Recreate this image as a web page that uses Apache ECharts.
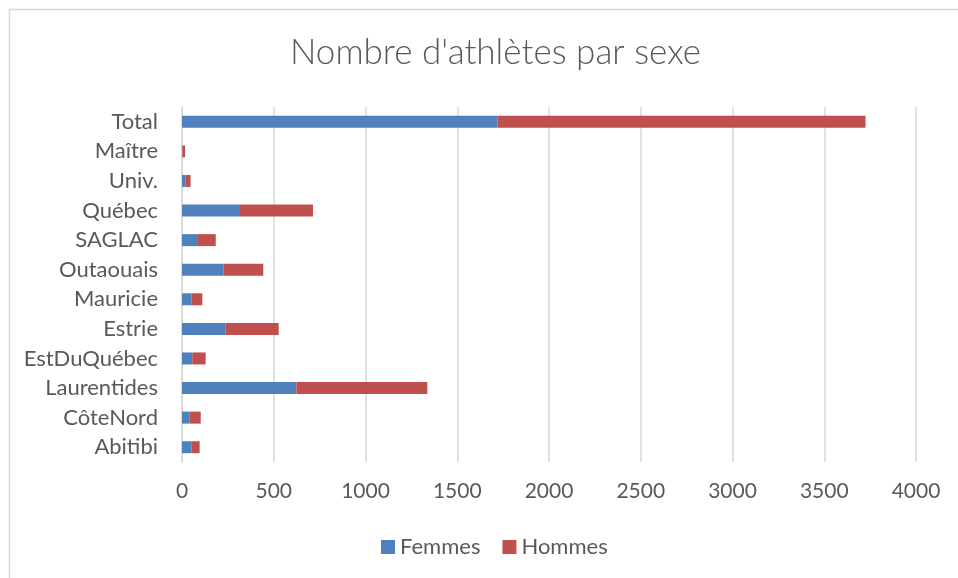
<!DOCTYPE html>
<html>
<head>
<meta charset="utf-8">
<script src="https://cdn.jsdelivr.net/npm/echarts@6/dist/echarts.min.js"></script>
<style>
  html, body { margin: 0; padding: 0; background: #fff; }
  #main { width: 958px; height: 578px; }
</style>
</head>
<body>
<div id="main"></div>
<script>
// categories bottom to top (as on the y axis)
const regions = ['Abitibi', 'CôteNord', 'Laurentides', 'EstDuQuébec', 'Estrie', 'Mauricie',
  'Outaouais', 'SAGLAC', 'Québec', 'Univ.', 'Maître', 'Total'];
const femmes = [53, 40, 623, 56, 236, 51, 227, 87, 311, 18, 2, 1720];
const hommes = [43, 62, 714, 73, 291, 60, 216, 97, 403, 29, 15, 2005];
const xTicks = [0, 500, 1000, 1500, 2000, 2500, 3000, 3500, 4000];

const chart = echarts.init(document.getElementById('main'));
const font = 'Lato, "Open Sans", sans-serif';

const option = {
  backgroundColor: '#ffffff',
  color: ['#4F81BD', '#C0504D'],
  animation: false,
  textStyle: { fontFamily: font },
  title: {
    text: "Nombre d'athlètes par sexe",
    left: 285,
    top: 30,
    textStyle: { fontFamily: font, fontSize: 35, fontWeight: 300, color: '#595959' }
  },
  legend: {
    top: 531,
    left: 376,
    itemWidth: 14,
    itemHeight: 14,
    itemGap: 22,
    icon: 'rect',
    textStyle: { fontFamily: font, fontSize: 22, color: '#595959' },
    data: ['Femmes', 'Hommes']
  },
  grid: {
    left: 182,
    right: 42,
    top: 107,
    bottom: 116,
    containLabel: false
  },
  xAxis: {
    type: 'value',
    min: xTicks[0],
    max: xTicks[xTicks.length - 1],
    interval: 500,
    axisLine: { show: false },
    axisTick: { show: false },
    axisLabel: {
      fontFamily: font, fontSize: 21, color: '#595959', margin: 19,
      formatter: v => String(v)
    },
    splitLine: { lineStyle: { color: '#D9D9D9', width: 1.5 } }
  },
  yAxis: {
    type: 'category',
    data: regions,
    axisLine: { lineStyle: { color: '#D9D9D9', width: 1.5 } },
    axisTick: { show: false },
    axisLabel: { fontFamily: font, fontSize: 22, color: '#595959', margin: 24 }
  },
  series: [
    { name: 'Femmes', type: 'bar', stack: 'total', barWidth: 12, data: femmes },
    { name: 'Hommes', type: 'bar', stack: 'total', barWidth: 12, data: hommes }
  ],
  graphic: [{
    type: 'polyline',
    shape: { points: [[9.5, 578], [9.5, 9.5], [958, 9.5]] },
    style: { stroke: '#D9D9D9', lineWidth: 1.5, fill: null }
  }]
};

chart.setOption(option);
</script>
</body>
</html>
